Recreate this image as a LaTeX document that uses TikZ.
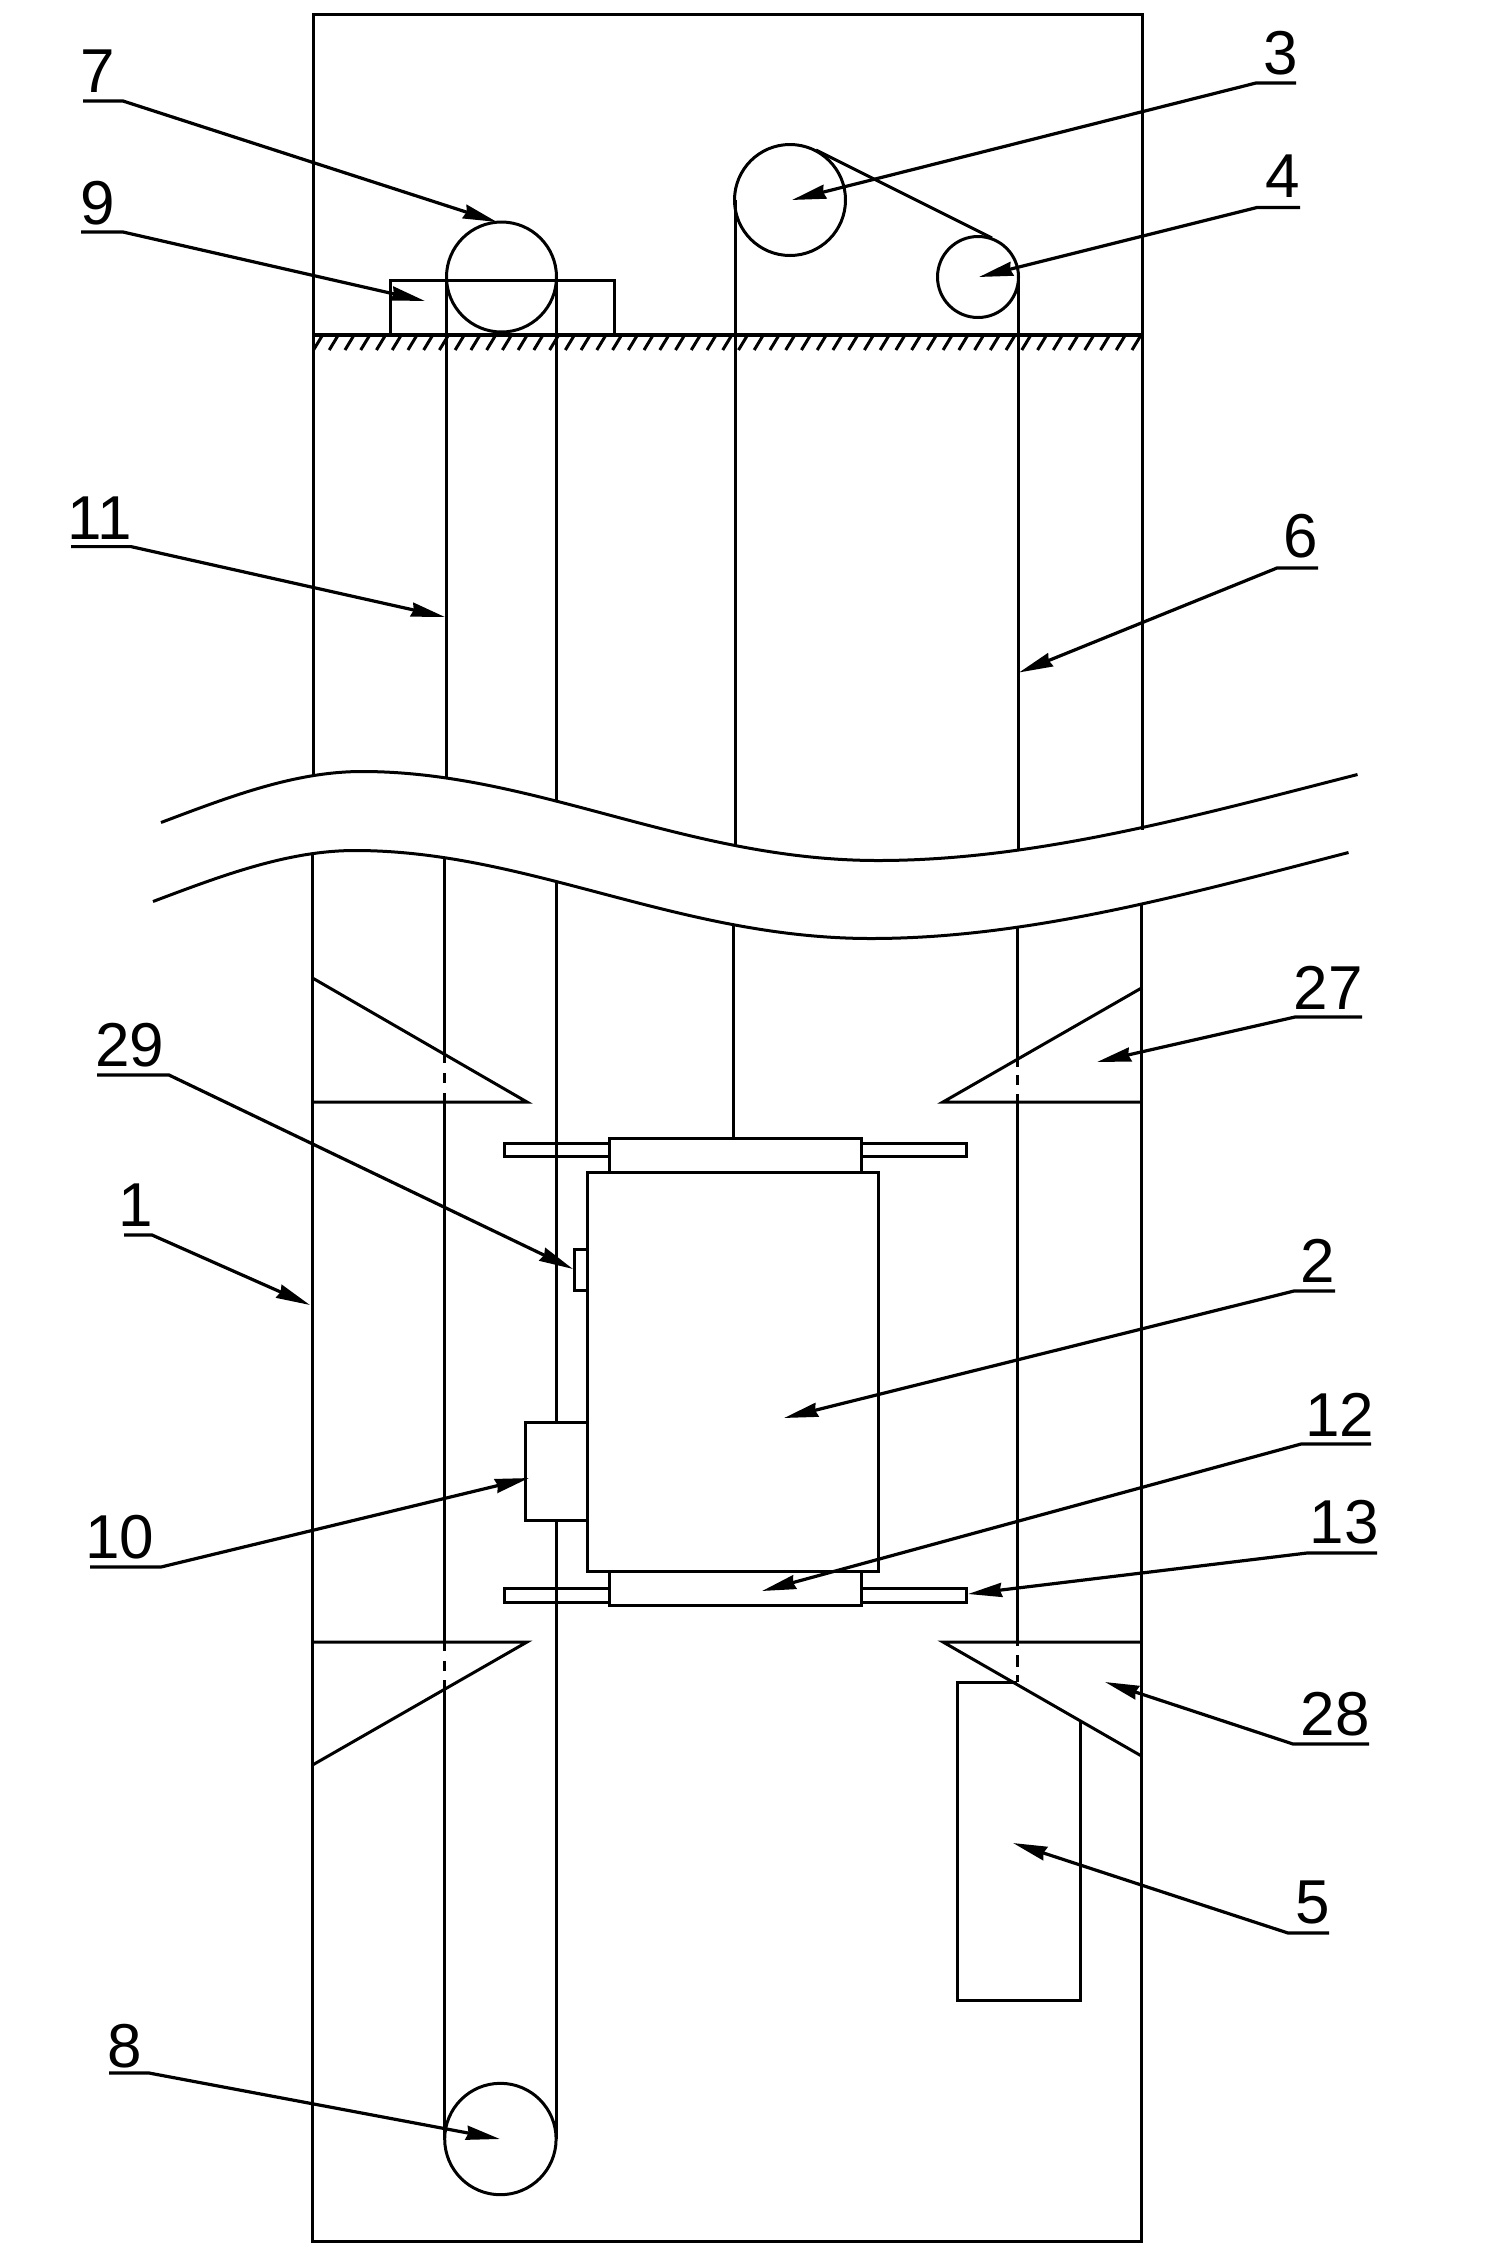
\documentclass[tikz,border=0pt]{standalone}
\usepackage{fontspec}
\setmainfont{Liberation Sans}
\usetikzlibrary{arrows.meta}
\tikzset{
  part/.style={line width=1.5pt,line join=miter},
  heavy/.style={line width=2pt},
  hatch/.style={line width=1.5pt},
  boxpart/.style={part,fill=white},
  leader/.style={line width=1.6pt,-{Stealth[inset=1pt,length=17pt,width=7pt]}},
  numlabel/.style={inner sep=0pt,font=\fontsize{31}{31}\selectfont,text=black},
}
\begin{document}
\begin{tikzpicture}[x=0.5pt,y=-0.5pt]
\useasboundingbox (0,0) rectangle (1493,2244);
\fill[white] (0,0) rectangle (1493,2244);

% top of the wall
\draw[part] (313.5,772) -- (313.5,14) -- (1142.5,14) -- (1142.5,830);

% upper part, above the break line
\begin{scope}
\clip (0,0) -- (0,822.5) -- (161,822.5) .. controls (230,796.5) and (295,771.5) .. (362,771.5)
  .. controls (535,771.5) and (686,860.5) .. (878,860.5)
  .. controls (1035,860.5) and (1193,816.5) .. (1357.5,774.5) -- (1493,774.5) -- (1493,0) -- cycle;
\draw[part] (313.5,400) -- (313.5,900);
\draw[part] (1142.5,400) -- (1142.5,900);
\draw[part] (446.5,277) -- (446.5,900);
\draw[part] (556.5,277) -- (556.5,900);
\draw[part] (735,200) -- (735,900);
\draw[part] (1018.5,277) -- (1018.5,900);
\end{scope}

% pulleys 7, 3, 4
\draw[part] (501.5,277) circle[radius=55];
\draw[part] (790,200) circle[radius=55.5];
\draw[part] (978,277) circle[radius=40.5];
\coordinate (rope3) at (816,150);
\coordinate (rope4) at (992,238);
\draw[part] (rope3) -- (rope4);
\draw[part] (390,334) -- (390,280) -- (614,280) -- (614,334);

% floor
\draw[heavy] (313,334.5) -- (1143.5,334.5);
\foreach \i in {0,...,52} {
  \draw[hatch] ({322+\i*15.74},336) -- ({313.5+\i*15.74},350);
}

% break lines
\draw[part] (161,822.5) .. controls (230,796.5) and (295,771.5) .. (362,771.5)
  .. controls (535,771.5) and (686,860.5) .. (878,860.5)
  .. controls (1035,860.5) and (1193,816.5) .. (1357.5,774.5);
\draw[part] (153,901.5) .. controls (222,875.5) and (288,850.5) .. (355,850.5)
  .. controls (528,850.5) and (679,938.5) .. (871,938.5)
  .. controls (1028,938.5) and (1186,894.5) .. (1348.5,852.5);

% lower part, below the break line
\begin{scope}
\clip (0,2244) -- (0,901.5) -- (153,901.5) .. controls (222,875.5) and (288,850.5) .. (355,850.5)
  .. controls (528,850.5) and (679,938.5) .. (871,938.5)
  .. controls (1028,938.5) and (1186,894.5) .. (1348.5,852.5) -- (1493,852.5) -- (1493,2244) -- cycle;
\draw[part] (312.5,800) -- (312.5,2241.5) -- (1141.5,2241.5) -- (1141.5,800);
\draw[part] (444.7,800) -- (444.7,1063);
\draw[part] (444.7,1073) -- (444.7,1083);
\draw[part] (444.7,1093) -- (444.7,1651);
\draw[part] (444.7,1661) -- (444.7,1671);
\draw[part] (444.7,1680) -- (444.7,2139);
\draw[part] (556,800) -- (556,2139);
\draw[part] (733.5,800) -- (733.5,1138);
\draw[part] (1017,800) -- (1017,1067);
\draw[part] (1017,1075) -- (1017,1085);
\draw[part] (1017,1094) -- (1017,1646);
\draw[part] (1017,1655) -- (1017,1667);
\draw[part] (1017,1675) -- (1017,1682);
\end{scope}

% buffers
\draw[part] (312.5,978) -- (527,1102) -- (312.5,1102);
\draw[part] (1141.5,988) -- (943,1102) -- (1141.5,1102);
\draw[part] (312.5,1765) -- (527,1642) -- (312.5,1642);
\draw[part] (1141.5,1756) -- (943,1642) -- (1141.5,1642);

% counterweight
\draw[part] (1017,1682) -- (957.5,1682) -- (957.5,2000.5) -- (1080.5,2000.5) -- (1080.5,1722);

% guide shoes and car
\draw[part] (609,1143) -- (504,1143) -- (504,1156) -- (609,1156);
\draw[part] (861.5,1143) -- (966.5,1143) -- (966.5,1156) -- (861.5,1156);
\draw[part] (609,1588) -- (504,1588) -- (504,1602) -- (609,1602);
\draw[part] (861.5,1588) -- (966.5,1588) -- (966.5,1602) -- (861.5,1602);
\draw[boxpart] (609,1138) rectangle (861.5,1172);
\draw[boxpart] (609,1571) rectangle (861.5,1605);
\draw[boxpart] (574,1249) rectangle (587.5,1290);
\draw[boxpart] (525,1422) rectangle (587.5,1520);
\draw[boxpart] (587.5,1172) rectangle (878,1571);

% pulley 8
\draw[boxpart] (500.4,2139) circle[radius=55.7];

% labels
\node[numlabel] (n7) at (97.5,71) {7};
\node[numlabel] (n9) at (97.5,203) {9};
\node[numlabel] (n3) at (1281,53) {3};
\node[numlabel] (n4) at (1282.5,176) {4};
\node[numlabel] (n11) at (100,518) {11};
\node[numlabel] (n6) at (1301,536) {6};
\node[numlabel] (n27) at (1328,987.5) {27};
\node[numlabel] (n29) at (130,1045) {29};
\node[numlabel] (n1) at (136,1205) {1};
\node[numlabel] (n2) at (1318,1260.5) {2};
\node[numlabel] (n12) at (1339.5,1414.7) {12};
\node[numlabel] (n13) at (1344,1522) {13};
\node[numlabel] (n10) at (119.5,1537.5) {10};
\node[numlabel] (n28) at (1335,1714) {28};
\node[numlabel] (n5) at (1313,1902) {5};
\node[numlabel] (n8) at (124.5,2046) {8};

% leaders: (outer end of underline) -- (inner end) -> target
\foreach \nm/\ax/\bx/\uy/\tx/\ty in {
  7/83/123/101/497/222,
  9/81/123/232/425/301,
  3/1296/1256/83/792/200,
  4/1300/1257/207.5/979/277,
  11/71/131/546.6/445/617,
  6/1318/1277/568/1019/672.5,
  27/1362/1295/1017/1097/1062,
  29/97/169/1075/573/1269,
  1/124/152/1235/310/1305,
  2/1335/1294/1291/784/1418,
  12/1371/1301/1444/762/1591,
  13/1377/1307/1553/968/1594,
  10/90/161/1567/529/1478,
  28/1369/1293/1744/1105/1682,
  5/1329/1288/1933/1013/1843,
  8/109/149/2073/500/2139}
{
  \coordinate (u\nm) at (\ax,\uy);
  \coordinate (v\nm) at (\bx,\uy);
  \coordinate (t\nm) at (\tx,\ty);
  \draw[leader] (u\nm) -- (v\nm) -- (t\nm);
}
\end{tikzpicture}
\end{document}
